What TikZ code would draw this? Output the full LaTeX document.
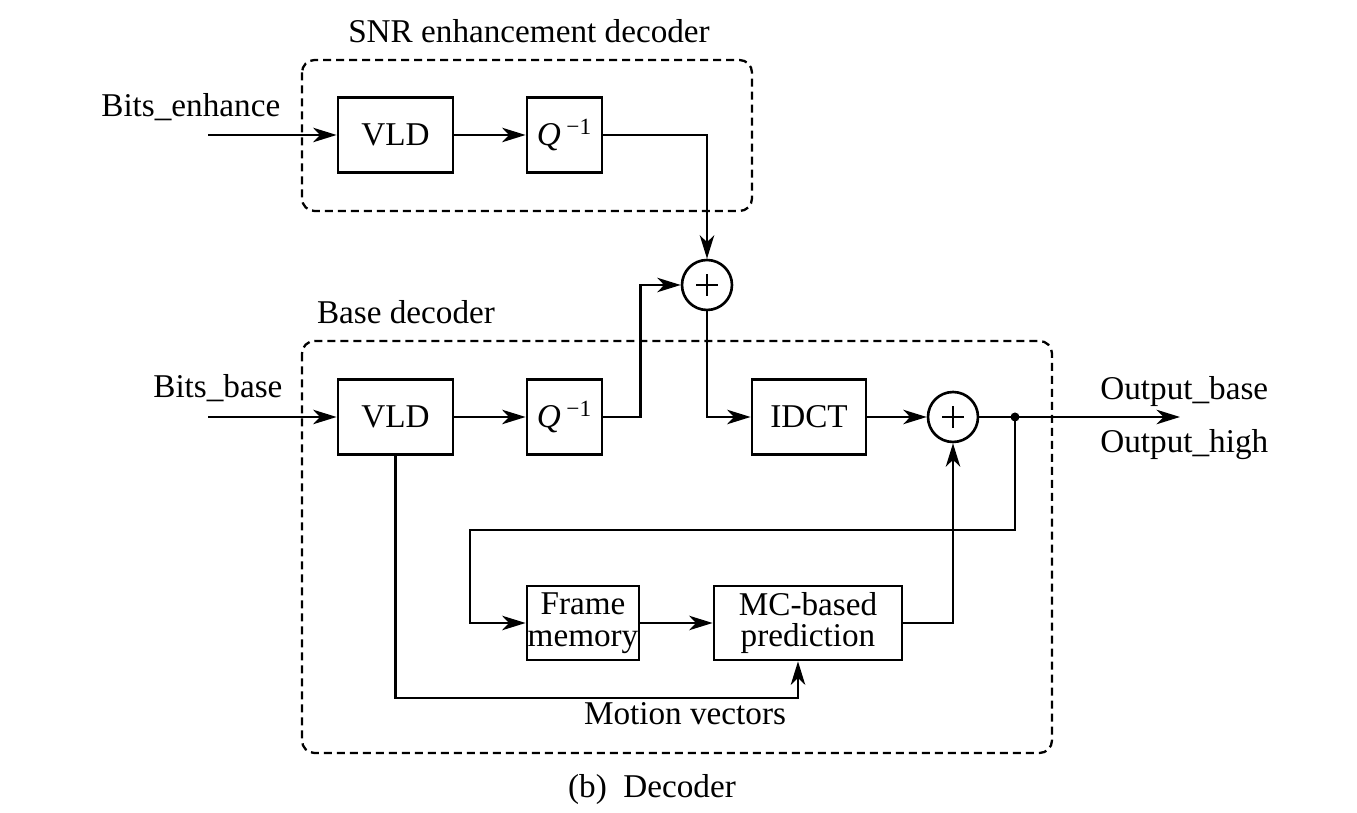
\documentclass[tikz,border=0pt]{standalone}
\usepackage{fontspec}
\setmainfont{Liberation Serif}
\usetikzlibrary{arrows.meta}
\begin{document}
\begin{tikzpicture}[x=0.02cm,y=-0.02cm,
  font=\fontsize{18.9}{18}\selectfont,
  blk/.style={draw, line width=1.6pt, inner sep=0pt, align=center},
  sumnode/.style={draw, circle, line width=1.5pt, minimum size=1cm, inner sep=0pt,
    path picture={\draw[line width=1.2pt] (path picture bounding box.center) +(-0.22cm,0) -- +(0.22cm,0)
      (path picture bounding box.center) +(0,-0.22cm) -- +(0,0.22cm);}},
  conn/.style={line width=1.35pt},
  arr/.style={conn, -{Stealth[length=0.47cm,width=0.29cm,inset=0.14cm]}},
  grp/.style={draw, dash pattern=on 0.16cm off 0.1cm, rounded corners=0.25cm, line width=1.3pt},
  lbl/.style={inner sep=0pt}]
\useasboundingbox (0,0) rectangle (1357,813);

% groups
\draw[grp] (302,60) rectangle (752,211);
\draw[grp] (302,341) rectangle (1052,753);

% blocks
\node[blk, minimum width=2.3cm, minimum height=1.5cm] (vlde) at (395.5,135) {VLD};
\node[blk, minimum width=1.5cm, minimum height=1.5cm] (qe) at (564.5,135) {\textit{Q}\,\textsuperscript{−1}};
\node[sumnode] (s1) at (707,285) {};
\node[blk, minimum width=2.3cm, minimum height=1.5cm] (vldb) at (395.5,417) {VLD};
\node[blk, minimum width=1.5cm, minimum height=1.5cm] (qb) at (564.5,417) {\textit{Q}\,\textsuperscript{−1}};
\node[blk, minimum width=2.28cm, minimum height=1.5cm] (idct) at (809,417) {IDCT};
\node[sumnode] (s2) at (953,417) {};
\node[blk, minimum width=2.24cm, minimum height=1.48cm] (fm) at (583,623) {Frame\\memory};
\node[blk, minimum width=3.76cm, minimum height=1.48cm] (mc) at (808,623) {MC-based\\prediction};

\coordinate (inE) at (208,135);
\coordinate (inB) at (208,417);
\coordinate (out) at (1180,417);
\coordinate (dot) at (1015,417);
\coordinate (fb) at (470,530);
\coordinate (mv) at (798,698);

% connectors
\draw[arr] (inE) -- (vlde.west);
\draw[arr] (vlde.east) -- (qe.west);
\draw[arr] (qe.east) -| (s1.north);
\draw[arr] (inB) -- (vldb.west);
\draw[arr] (vldb.east) -- (qb.west);
\draw[arr] (qb.east) -- ++(37,0) |- (s1.west);
\draw[arr] (s1.south) |- (idct.west);
\draw[arr] (idct.east) -- (s2.west);
\draw[arr] (s2.east) -- (out);
\fill (dot) circle (0.09cm);
\draw[arr] (dot) |- (fb) |- (fm.west);
\draw[arr] (fm.east) -- (mc.west);
\draw[arr] (mc.east) -| (s2.south);
\draw[arr] (vldb.south) |- (mv) -- (mv |- mc.south);

% labels
\node[lbl, anchor=base] (tsnr) at (529,43) {SNR enhancement decoder};
\node[lbl, anchor=base west] (tbe) at (101,117) {Bits\_enhance};
\node[lbl, anchor=base] (tbase) at (406,324) {Base decoder};
\node[lbl, anchor=base west] (tbb) at (153,398) {Bits\_base};
\node[lbl, anchor=base west] (tob) at (1100,400) {Output\_base};
\node[lbl, anchor=base west] (toh) at (1100,453) {Output\_high};
\node[lbl, anchor=base] (tmv) at (685,725) {Motion vectors};
\node[lbl, anchor=base] (tcap) at (652,798) {(b)\ \ Decoder};
\end{tikzpicture}
\end{document}
